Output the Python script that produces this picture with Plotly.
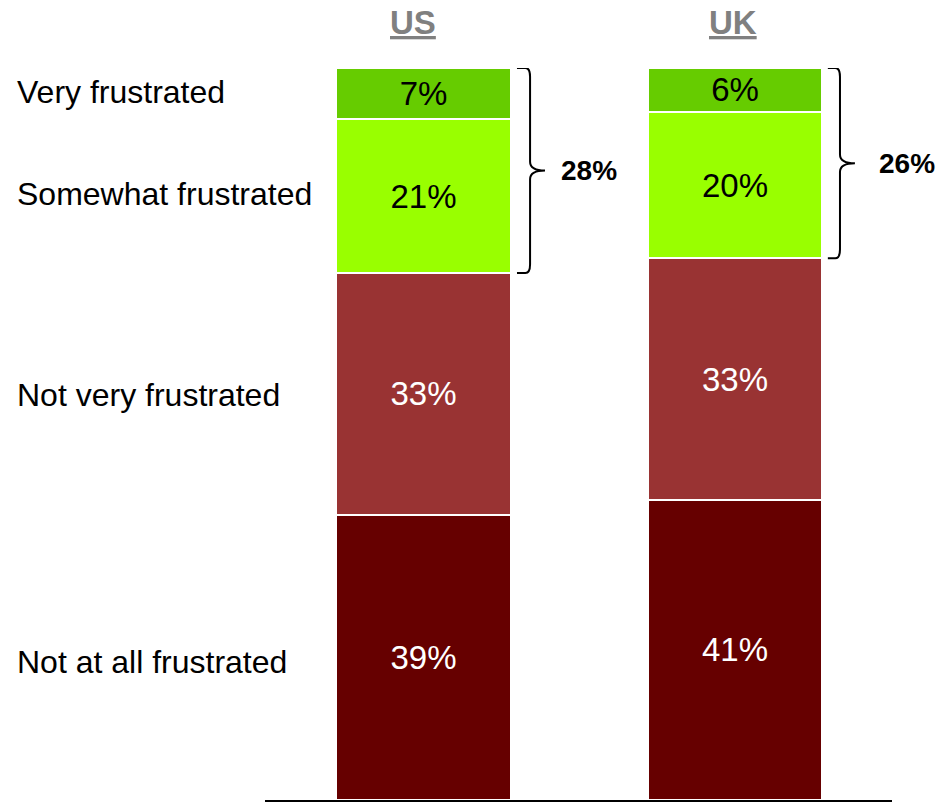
import plotly.graph_objects as go

countries = ["US", "UK"]
levels = ["Not at all frustrated", "Not very frustrated", "Somewhat frustrated", "Very frustrated"]
us_values = [39, 33, 21, 7]
uk_values = [41, 33, 20, 6]
colors = ["#660000", "#993333", "#99FF00", "#66CC00"]
text_colors = ["white", "white", "black", "black"]
frustrated_totals = [28, 26]

FONT = "Liberation Sans, Arial, Helvetica, sans-serif"
xpos = [0, 1]
bar_width = 0.56

fig = go.Figure()
for i, level in enumerate(levels):
    vals = [us_values[i], uk_values[i]]
    fig.add_trace(go.Bar(
        x=xpos, y=vals, width=bar_width, name=level,
        marker=dict(color=colors[i], line=dict(color="white", width=2)),
        text=[f"{v}%" for v in vals], textposition="inside",
        insidetextanchor="middle", textangle=0, constraintext="none",
        textfont=dict(family=FONT, size=33, color=text_colors[i]),
        hoverinfo="skip",
    ))

# category labels down the left, centred on the US segments
label_shift = [-5, -1, 2, 2]
cum = 0
for lvl, v, ys in zip(levels, us_values, label_shift):
    fig.add_annotation(text=lvl, xref="paper", x=-0.399, xanchor="left",
                       yref="y", y=cum + v / 2, yanchor="middle", yshift=ys,
                       showarrow=False,
                       font=dict(family=FONT, size=32, color="black"))
    cum += v

# country headers
header_x = [-0.035, 0.995]
for x, c in zip(header_x, countries):
    fig.add_annotation(text=f"<b><u>{c}</u></b>", x=x, xref="x", y=1.062, yref="paper",
                       yanchor="middle", showarrow=False,
                       font=dict(family=FONT, size=33, color="#808080"))

# curly braces spanning the two "frustrated" segments
brace_geom = [(0.300, 0.342, 0.390, 0.435), (1.298, 1.337, 1.385, 1.457)]
for (x0, xv, xt, xl), total in zip(brace_geom, frustrated_totals):
    top, bot = 100, 100 - total
    mid = (top + bot) / 2
    r = 1.2
    path = (f"M {x0},{top} L {xv - 0.015},{top} Q {xv},{top} {xv},{top - r} "
            f"L {xv},{mid + r} Q {xv},{mid} {xt},{mid} "
            f"Q {xv},{mid} {xv},{mid - r} L {xv},{bot + r} "
            f"Q {xv},{bot} {xv - 0.015},{bot} L {x0},{bot}")
    fig.add_shape(type="path", path=path, xref="x", yref="y",
                  line=dict(color="black", width=2))
    fig.add_annotation(text=f"<b>{total}%</b>", x=xl, xref="x", xanchor="left",
                       y=mid, yref="y", yanchor="middle", showarrow=False,
                       font=dict(family=FONT, size=28, color="black"))

fig.update_layout(
    barmode="stack", showlegend=False,
    width=936, height=803,
    margin=dict(l=265, r=44, t=68, b=3),
    paper_bgcolor="white", plot_bgcolor="white",
    xaxis=dict(range=[-0.509, 1.504], showline=True, linecolor="black", linewidth=2,
               showticklabels=False, ticks="", showgrid=False, zeroline=False),
    yaxis=dict(range=[0, 100], visible=False, showgrid=False, zeroline=False),
)

fig.write_html("out.html")
